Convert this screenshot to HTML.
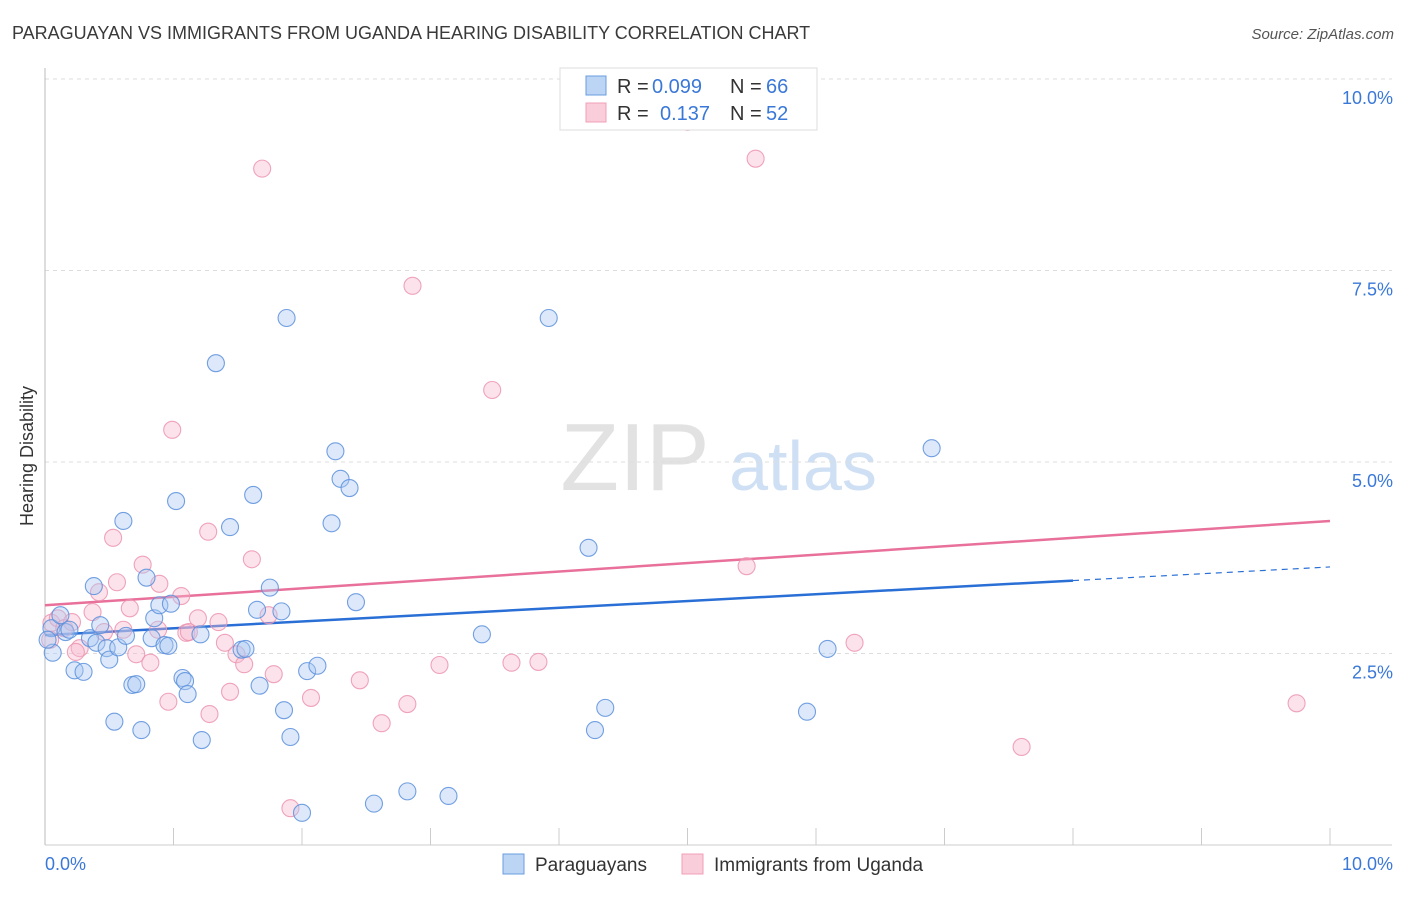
<!DOCTYPE html>
<html><head><meta charset="utf-8"><style>
body{margin:0;background:#fff;font-family:"Liberation Sans",sans-serif}
svg text{font-family:"Liberation Sans",sans-serif}
</style></head><body>
<svg id="chart" width="1406" height="892">
<text x="12" y="39" font-size="18" fill="#3a3a3a">PARAGUAYAN VS IMMIGRANTS FROM UGANDA HEARING DISABILITY CORRELATION CHART</text>
<text x="1394" y="39" font-size="15" fill="#555" font-style="italic" text-anchor="end">Source: ZipAtlas.com</text>
<text x="33" y="456" font-size="18" fill="#333" text-anchor="middle" transform="rotate(-90 33 456)">Hearing Disability</text>
<g><text x="635" y="490" font-size="96" font-family="Liberation Serif" fill="#e2e2e2" text-anchor="middle">ZIP</text><text x="803" y="490" font-size="70" fill="#cfe0f5" text-anchor="middle">atlas</text></g>
<g id="grid"></g><g id="axes"></g><g id="trend"></g><g id="pts"></g>
<g>
<rect x="560" y="68" width="257" height="62" fill="#fff" stroke="#ddd"/>
<rect x="586" y="76" width="20" height="19" fill="#bcd5f5" stroke="#6a9de0"/>
<rect x="586" y="103" width="20" height="19" fill="#f9cdd9" stroke="#f0a0b8"/>
<text x="617" y="93" font-size="20" fill="#333">R =</text>
<text x="652" y="93" font-size="20" fill="#3a78d8">0.099</text>
<text x="730" y="93" font-size="20" fill="#333">N =</text>
<text x="766" y="93" font-size="20" fill="#3a78d8">66</text>
<text x="617" y="120" font-size="20" fill="#333">R =</text>
<text x="660" y="120" font-size="20" fill="#3a78d8">0.137</text>
<text x="730" y="120" font-size="20" fill="#333">N =</text>
<text x="766" y="120" font-size="20" fill="#3a78d8">52</text>
</g>
<g>
<rect x="503" y="854" width="21" height="20" fill="#bcd5f5" stroke="#6a9de0"/>
<text x="535" y="871" font-size="19" fill="#333">Paraguayans</text>
<rect x="682" y="854" width="21" height="20" fill="#f9cdd9" stroke="#f0a0b8"/>
<text x="714" y="871" font-size="19" fill="#333">Immigrants from Uganda</text>
</g>
</svg>
<script>
const yTicks=[2.5,5.0,7.5,10.0];
const yTickLabels=["2.5%","5.0%","7.5%","10.0%"];
const xTickLabels=["0.0%","10.0%"];
const blueX=[0.06,0.05,0.12,0.16,0.23,0.30,0.35,0.43,0.40,0.48,0.50,0.57,0.63,0.54,0.75,0.68,0.71,0.61,0.38,0.79,0.85,0.83,0.89,0.98,0.93,0.96,1.02,1.07,1.09,1.11,1.21,1.22,1.33,1.44,1.53,1.56,1.62,1.67,1.65,1.75,1.84,1.86,1.88,1.91,2.00,2.04,2.12,2.23,2.26,2.30,2.37,2.42,2.56,2.82,3.14,3.40,3.92,4.23,4.28,4.36,5.93,6.09,6.90,0.02,0.19];
const blueY=[2.51,2.83,3.00,2.78,2.28,2.26,2.70,2.87,2.64,2.57,2.42,2.58,2.73,1.61,1.50,2.09,2.10,4.23,3.38,3.49,2.96,2.70,3.13,3.15,2.61,2.60,4.49,2.18,2.14,1.97,2.75,1.37,6.29,4.15,2.55,2.56,4.57,2.08,3.07,3.36,3.05,1.76,6.88,1.41,0.42,2.27,2.34,4.20,5.14,4.78,4.66,3.17,0.54,0.70,0.64,2.75,6.88,3.88,1.50,1.79,1.74,2.56,5.18,2.68,2.81];
const pinkX=[0.05,0.10,0.15,0.21,0.27,0.37,0.42,0.46,0.53,0.56,0.61,0.66,0.71,0.76,0.82,0.88,0.89,0.96,0.99,1.06,1.10,1.12,1.19,1.27,1.28,1.35,1.40,1.44,1.49,1.55,1.61,1.69,1.74,1.78,1.91,2.07,2.45,2.62,2.82,2.86,3.07,3.48,3.63,3.84,5.00,5.46,5.53,6.30,7.60,9.74,0.04,0.24];
const pinkY=[2.90,2.96,2.83,2.91,2.57,3.04,3.30,2.78,4.01,3.43,2.81,3.09,2.49,3.66,2.38,2.81,3.41,1.87,5.42,3.25,2.77,2.78,2.96,4.09,1.71,2.91,2.64,2.00,2.49,2.36,3.73,8.83,3.00,2.23,0.48,1.92,2.15,1.59,1.84,7.30,2.35,5.94,2.38,2.39,9.44,3.64,8.96,2.64,1.28,1.85,2.68,2.52];
const blueTrend=[2.74,0.089]; // intercept, slope
const pinkTrend=[3.13,0.110];
const blueSolidEnd=8.0;
const NS="http://www.w3.org/2000/svg";
const sx=v=>45+v*128.5, sy=v=>845-v*76.6;
function mk(t,a,p){const e=document.createElementNS(NS,t);for(const k in a)e.setAttribute(k,a[k]);p.appendChild(e);return e;}
const grid=document.getElementById('grid'),axes=document.getElementById('axes');
yTicks.forEach((v,i)=>{
 const l=mk('line',{x1:45,x2:1392,y1:sy(v),y2:sy(v),stroke:'#ddd','stroke-dasharray':'4,4'},grid);
 
 
 const t=mk('text',{x:1393,y:sy(v)+25,'font-size':18,fill:'#3a78d8','text-anchor':'end'},axes);
 t.textContent=yTickLabels[i];
 
 
});
mk('line',{x1:45,x2:45,y1:68,y2:845,stroke:'#bbb'},axes);
mk('line',{x1:45,x2:1392,y1:845,y2:845,stroke:'#ccc'},axes);
for(let i=1;i<=10;i++){mk('line',{x1:sx(i),x2:sx(i),y1:828,y2:845,stroke:'#ccc'},axes);}
const xl0=mk('text',{x:45,y:870,'font-size':18,fill:'#3a78d8'},axes);xl0.textContent=xTickLabels[0];


const xl1=mk('text',{x:1393,y:870,'font-size':18,fill:'#3a78d8','text-anchor':'end'},axes);xl1.textContent=xTickLabels[1];


const pts=document.getElementById('pts');
function dots(X,Y,fill,stroke,name){X.forEach((x,i)=>{const c=mk('circle',{cx:sx(x),cy:sy(Y[i]),r:8.5,fill:fill,'fill-opacity':0.4,stroke:stroke,'stroke-width':1.1,'stroke-opacity':0.85},pts);
 
 });}
dots(pinkX,pinkY,'#f7b9cc','#ec94b0','point-uganda');
dots(blueX,blueY,'#a9c9f2','#5b8fdc','point-paraguayans');
const tr=document.getElementById('trend');
const f=(t,x)=>t[0]+t[1]*x;
const b1=mk('line',{x1:sx(0),y1:sy(f(blueTrend,0)),x2:sx(blueSolidEnd),y2:sy(f(blueTrend,blueSolidEnd)),stroke:'#2a6fd6','stroke-width':2.5},tr);


const b2=mk('line',{x1:sx(blueSolidEnd),y1:sy(f(blueTrend,blueSolidEnd)),x2:sx(10),y2:sy(f(blueTrend,10)),stroke:'#2a6fd6','stroke-width':1.2,'stroke-dasharray':'6,5'},tr);


const p1=mk('line',{x1:sx(0),y1:sy(f(pinkTrend,0)),x2:sx(10),y2:sy(f(pinkTrend,10)),stroke:'#e8709a','stroke-width':2.5},tr);


</script>
</body></html>
